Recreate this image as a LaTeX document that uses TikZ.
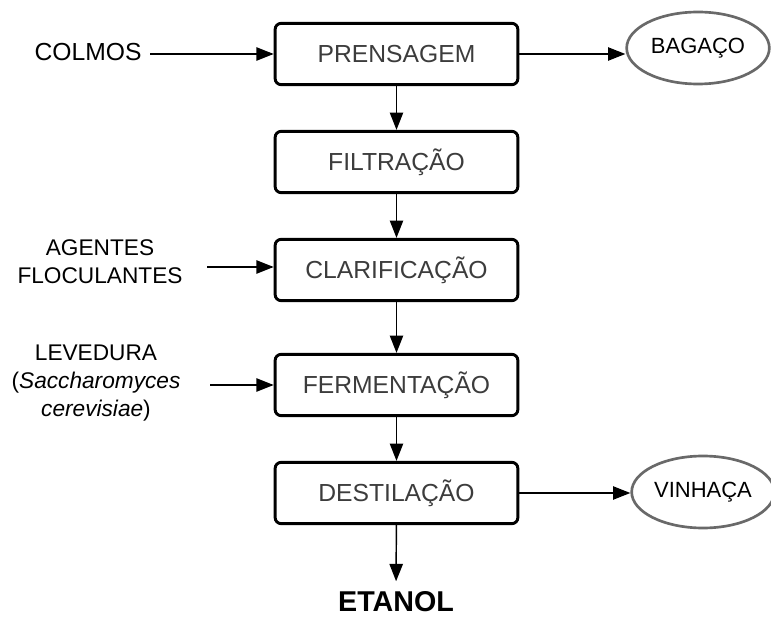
\documentclass[tikz,border=0pt]{standalone}
\usepackage{fontspec}
\setmainfont{Liberation Sans}
\usetikzlibrary{shapes.geometric,arrows.meta}
\definecolor{boxtext}{RGB}{60,60,60}
\definecolor{ovalline}{RGB}{105,105,105}

\begin{document}
\begin{tikzpicture}[x=0.75pt,y=0.75pt,yscale=-1,xscale=1,
	etapa/.style={draw=black, line width=2.2pt, rounded corners=4.5pt, minimum width=182pt, minimum height=46pt, inner sep=0pt, text=boxtext, font=\fontsize{18.5}{21}\selectfont},
	residuo/.style={ellipse, draw=ovalline, line width=2pt, minimum width=107pt, minimum height=54pt, inner sep=0pt, font=\fontsize{16.5}{19}\selectfont},
	entrada/.style={align=center, inner sep=0.75pt, font=\fontsize{17}{21}\selectfont},
	fluxo/.style={line width=1.1pt, -{Triangle[length=13pt,width=10pt]}}]
		\useasboundingbox (0,0) rectangle (771,620);
		
		% Etapas
		\node [etapa] (prensagem) at (396.5,54) {PRENSAGEM};
		\node [etapa] (filtracao) at (396.5,162) {FILTRAÇÃO};
		\node [etapa] (clarificacao) at (396.5,270) {CLARIFICAÇÃO};
		\node [etapa] (fermentacao) at (396.5,385) {FERMENTAÇÃO};
		\node [etapa] (destilacao) at (396.5,493) {DESTILAÇÃO};
		
		% Residuos
		\node [residuo] (bagaco) at (698,48) {BAGAÇO};
		\node [residuo] (vinhaca) at (703,492) {VINHAÇA};
		
		% Text Node
		\node [entrada, font=\fontsize{18.5}{21}\selectfont] (colmos) at (88,52) {COLMOS};
		% Text Node
		\node [entrada] (agentes) at (100,262) {AGENTES\\FLOCULANTES};
		% Text Node
		\node [entrada] (levedura) at (96,383) {LEVEDURA\\(\textit{Saccharomyces}\\\textit{cerevisiae})};
		% Text Node
		\node [font=\fontsize{21.5}{24}\bfseries, inner sep=0.75pt] (etanol) at (396,602) {ETANOL};
		
		\coordinate (inColmos) at (150,54);
		\coordinate (inAgentes) at (207,267);
		\coordinate (inLevedura) at (210,385);
		
		% Fluxo principal
		\draw [fluxo] (prensagem) -- (filtracao);
		\draw [fluxo] (filtracao) -- (clarificacao);
		\draw [fluxo] (clarificacao) -- (fermentacao);
		\draw [fluxo] (fermentacao) -- (destilacao);
		\draw [fluxo, shorten >=7pt] (destilacao) -- (etanol);
		
		% Entradas
		\draw [fluxo] (inColmos) -- (inColmos -| prensagem.west);
		\draw [fluxo] (inAgentes) -- (inAgentes -| clarificacao.west);
		\draw [fluxo] (inLevedura) -- (inLevedura -| fermentacao.west);
		
		% Saidas
		\draw [fluxo] (prensagem.east) -- (prensagem.east -| bagaco.west);
		\draw [fluxo] (destilacao.east) -- (destilacao.east -| vinhaca.west);
	\end{tikzpicture}
\end{document}
